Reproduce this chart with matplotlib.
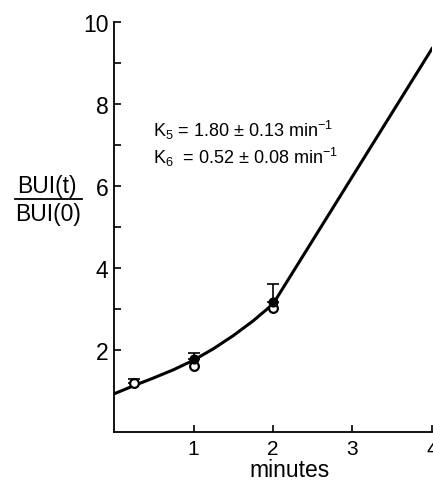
import matplotlib
matplotlib.use("Agg")
import matplotlib.pyplot as plt
from matplotlib.lines import Line2D

plt.rcParams['font.family'] = ['Liberation Sans', 'DejaVu Sans']
plt.rcParams['mathtext.fontset'] = 'custom'
plt.rcParams['mathtext.rm'] = 'Liberation Sans'
plt.rcParams['mathtext.it'] = 'Liberation Sans:italic'

# fitted curve
curve_x = [0, 0.25, 0.5, 0.75, 1, 1.25, 1.5, 1.75, 2, 4]
curve_y = [0.93, 1.13, 1.32, 1.52, 1.75, 2.03, 2.35, 2.71, 3.12, 9.35]

# open circles
open_x = [0.25, 1, 2]
open_y = [1.2, 1.62, 3.03]

# filled circles
filled_x = [1, 2]
filled_y = [1.78, 3.17]

# upper error bars
err_x = [0.25, 1, 2]
err_y = [1.2, 1.78, 3.17]
err_up = [0.1, 0.15, 0.45]

W, H = 433, 481
fig = plt.figure(figsize=(W / 100, H / 100), dpi=100)
ax = fig.add_axes([114 / W, 1 - 433 / H, (432 - 114) / W, (433 - 23) / H])

ax.plot(curve_x, curve_y, color="black", lw=2.2, zorder=2)
ax.errorbar(err_x, err_y, yerr=[[0] * 3, err_up], fmt="none", ecolor="black",
            elinewidth=1.2, capsize=4, capthick=1.2, zorder=3)
ax.plot(open_x, open_y, "o", ms=6.3, mfc="white", mec="black", mew=1.6, zorder=4)
ax.plot(filled_x, filled_y, "o", ms=6.3, mfc="black", mec="black", zorder=5)

ax.set_xlim(0, 4)
ax.set_ylim(0, 10)
ax.spines["top"].set_visible(False)
ax.spines["right"].set_visible(False)
for s in ["left", "bottom"]:
    ax.spines[s].set_linewidth(1.3)

ax.set_xticks([1, 2, 3, 4])
ax.set_yticks([2, 4, 6, 8, 10])
ax.set_yticks([3, 5, 7, 9], minor=True)
ax.tick_params(direction="in", length=5, width=1.2, labelsize=16.5, pad=4)
ax.tick_params(axis="y", which="minor", direction="in", length=5, width=1.2)
ax.tick_params(axis="x", pad=5, labelsize=15)

fig.text(290 / W, 1 - 471 / H, "minutes", fontsize=16.5, ha="center", va="center")

# fraction label
fig.text(47 / W, 1 - 186 / H, "BUI(t)", fontsize=16.5, ha="center", va="center")
fig.text(48 / W, 1 - 215 / H, "BUI(0)", fontsize=16.5, ha="center", va="center")
fig.add_artist(Line2D([15 / W, 82 / W], [1 - 200 / H, 1 - 200 / H],
                      color="black", lw=1.3))

ax.text(153 / W, 1 - 130 / H, r"K$_5$ = 1.80 ± 0.13 min$^{-1}$", fontsize=13,
        transform=fig.transFigure, va="center")
ax.text(153 / W, 1 - 157 / H, r"K$_6$  = 0.52 ± 0.08 min$^{-1}$", fontsize=13,
        transform=fig.transFigure, va="center")

fig.savefig("out.png", dpi=100)
